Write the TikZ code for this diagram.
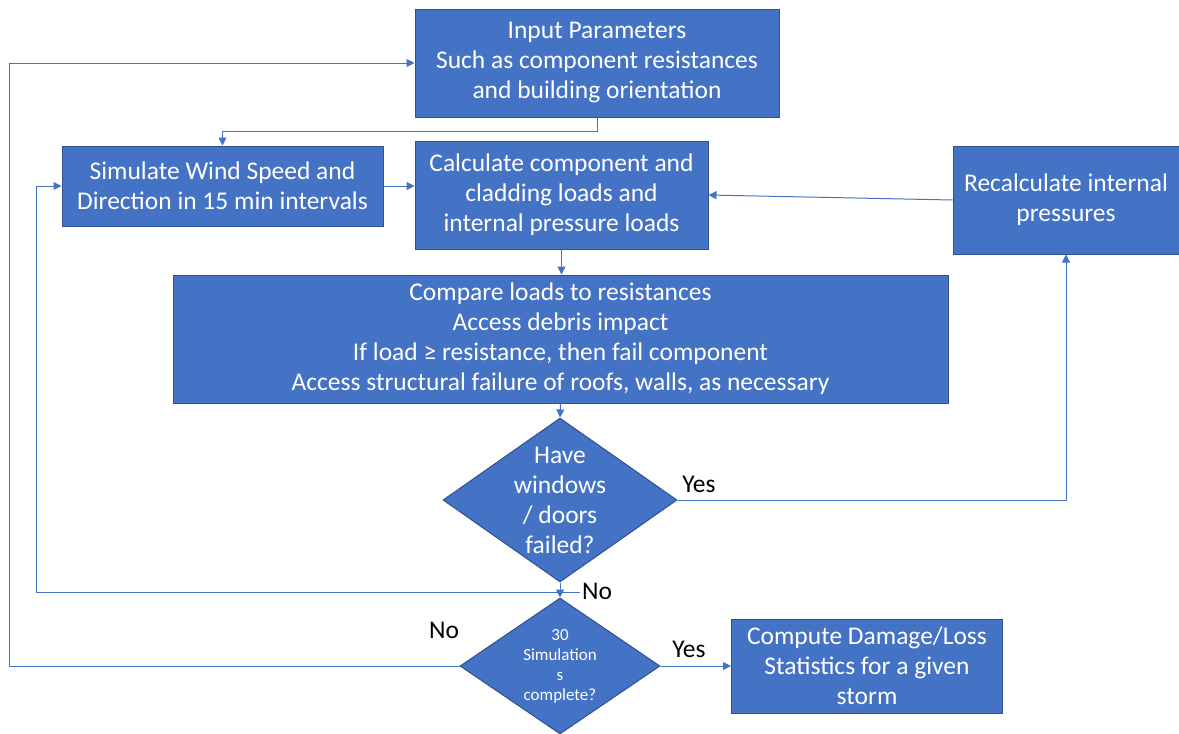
\documentclass[tikz,border=0pt]{standalone}
\usepackage{fontspec}
\setmainfont{Carlito}
\usetikzlibrary{shapes, arrows.meta, positioning, calc}
\definecolor{boxblue}{HTML}{4472C4}
\definecolor{boxedge}{HTML}{2F528F}
\tikzset{
    block/.style={rectangle, draw=boxedge, line width=1pt, fill=boxblue, text=white, align=center, inner sep=2pt, font=\fontsize{25.5}{30}\selectfont},
    decision/.style={diamond, draw=boxedge, line width=1pt, fill=boxblue, text=white, align=center, inner sep=0pt, font=\fontsize{25.5}{30}\selectfont},
    arrow/.style={draw=boxblue, line width=1pt, -{Triangle[length=8pt, width=8pt]}},
    line/.style={draw=boxblue, line width=1pt},
    answer/.style={text=black, font=\fontsize{25.5}{28}\selectfont}
}

\begin{document}
\begin{tikzpicture}[x=1pt, y=-1pt]
            \useasboundingbox (0,0) rectangle (1179,734);
            \node[block, minimum width=364pt, minimum height=108pt] (input) at (597,63) {Input Parameters\\Such as component resistances\\and building orientation};
            \node[block, minimum width=321pt, minimum height=80pt] (sim) at (222.5,186) {Simulate Wind Speed and\\Direction in 15 min intervals};
            \node[block, minimum width=293pt, minimum height=108pt] (calc) at (561.5,195) {Calculate component and\\cladding loads and\\internal pressure loads};
            \node[block, minimum width=226pt, minimum height=108pt] (recalc) at (1066,200) {Recalculate internal\\pressures};
            \node[block, minimum width=775pt, minimum height=128pt] (compare) at (560.5,339) {Compare loads to resistances\\Access debris impact\\If load ≥ resistance, then fail component\\Access structural failure of roofs, walls, as necessary};
            \node[decision, minimum width=234pt, minimum height=164pt, shape aspect=1.43, inner sep=-6pt] (failed) at (560,500) {Have\\windows\\/ doors\\failed?};
            \node[decision, minimum width=200pt, minimum height=136pt, shape aspect=1.47, font=\fontsize{17}{20}\selectfont] (done) at (560,666) {30\\Simulation\\s\\complete?};
            \node[block, minimum width=271pt, minimum height=94pt] (stats) at (867,666) {Compute Damage/Loss\\Statistics for a given\\storm};

            \coordinate (nojoin) at (560,592);

            \path[arrow] (input.south) -- ++(0,14) -| (sim.north);
            \path[arrow] (sim.east) -- (sim.east -| calc.west);
            \path[arrow] (recalc.west) -- (calc.east);
            \path[arrow] (calc.south) -- (calc.south |- compare.north);
            \path[arrow] (compare.south) -- (failed.north);
            \path[arrow] (failed.east) -| (recalc.south);
            \path[arrow] (failed.south) -- (done.north);
            \path[line] ($(nojoin)+(20,0)$) -- ++(-544,0);
            \path[arrow] (nojoin) -- ++(-524,0) |- (sim.west);
            \path[arrow] (done.west) -- ++(-450,0) |- (input.west);
            \path[arrow] (done.east) -- (stats.west);

            \node[answer] (yes1) at (699,484) {Yes};
            \node[answer] (no1) at (597,591) {No};
            \node[answer] (no2) at (444,630) {No};
            \node[answer] (yes2) at (689,649) {Yes};
        \end{tikzpicture}
\end{document}
